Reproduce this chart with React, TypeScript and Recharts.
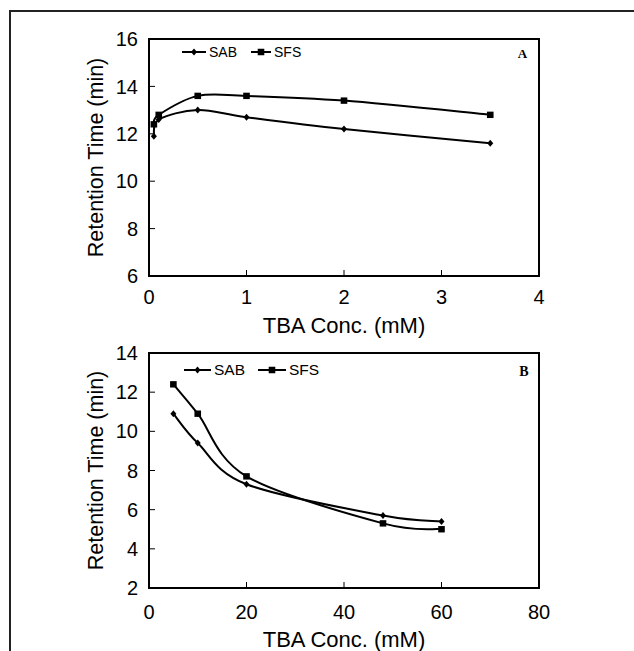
import React from 'react';
import { LineChart, Line, XAxis, YAxis, ReferenceArea, Legend } from 'recharts';

// ---- data ----
const concA = [0.05, 0.1, 0.5, 1, 2, 3.5];
const sabA = [11.9, 12.6, 13.0, 12.7, 12.2, 11.6];
const sfsA = [12.4, 12.8, 13.6, 13.6, 13.4, 12.8];

const concB = [5, 10, 20, 48, 60];
const sabB = [10.9, 9.4, 7.3, 5.7, 5.4];
const sfsB = [12.4, 10.9, 7.7, 5.3, 5.0];

const xTicksA = [0, 1, 2, 3, 4];
const yTicksA = [6, 8, 10, 12, 14, 16];
const xTicksB = [0, 20, 40, 60, 80];
const yTicksB = [2, 4, 6, 8, 10, 12, 14];

const seriesNames = ['SAB', 'SFS'];
const panelLabels = ['A', 'B'];
const xTitle = 'TBA Conc. (mM)';
const yTitle = 'Retention Time (min)';

const dataA = concA.map((x, i) => ({ x, SAB: sabA[i], SFS: sfsA[i] }));
const dataB = concB.map((x, i) => ({ x, SAB: sabB[i], SFS: sfsB[i] }));

const FONT = '"Liberation Sans", Arial, sans-serif';

// Catmull-Rom style smoothing (similar to spreadsheet "smoothed line")
function smoothCurve(context: any) {
  let pts: number[][] = [];
  return {
    areaStart() {},
    areaEnd() {},
    lineStart() {
      pts = [];
    },
    point(x: number, y: number) {
      pts.push([+x, +y]);
    },
    lineEnd() {
      const n = pts.length;
      if (!n) return;
      context.moveTo(pts[0][0], pts[0][1]);
      for (let i = 0; i < n - 1; i++) {
        const p0 = pts[Math.max(i - 1, 0)];
        const p1 = pts[i];
        const p2 = pts[i + 1];
        const p3 = pts[Math.min(i + 2, n - 1)];
        context.bezierCurveTo(
          p1[0] + (p2[0] - p0[0]) / 6,
          p1[1] + (p2[1] - p0[1]) / 6,
          p2[0] - (p3[0] - p1[0]) / 6,
          p2[1] - (p3[1] - p1[1]) / 6,
          p2[0],
          p2[1]
        );
      }
    },
  };
}

const diamondPath = (cx: number, cy: number) =>
  `M${cx},${cy - 3.5}L${cx + 3},${cy}L${cx},${cy + 3.5}L${cx - 3},${cy}Z`;
const squarePath = (cx: number, cy: number) =>
  `M${cx - 3.3},${cy - 3.2}h6.6v6.4h-6.6Z`;

const DiamondDot = (props: any) => {
  const { cx, cy, index } = props;
  if (cx == null || cy == null) return <g key={`d${index}`} />;
  return <path key={`d${index}`} d={diamondPath(cx, cy)} fill="#000" />;
};
const SquareDot = (props: any) => {
  const { cx, cy, index } = props;
  if (cx == null || cy == null) return <g key={`s${index}`} />;
  return <path key={`s${index}`} d={squarePath(cx, cy)} fill="#000" />;
};

const makeLegend = (cfg: { fontSize: number; lineLens: number[]; gap: number }) => (props: any) => {
  const items = props.payload || [];
  return (
    <div style={{ display: 'flex', alignItems: 'center', height: 16, fontFamily: FONT, fontSize: cfg.fontSize, color: '#000', whiteSpace: 'nowrap' }}>
      {items.map((it: any, i: number) => {
        const L = cfg.lineLens[i] || 24;
        const isSab = it.value === seriesNames[0];
        return (
          <div key={i} style={{ display: 'flex', alignItems: 'center', marginLeft: i ? cfg.gap : 0 }}>
            <svg width={L} height={16} style={{ display: 'block' }}>
              <line x1={0} y1={8} x2={L} y2={8} stroke="#000" strokeWidth={2} />
              <path d={isSab ? diamondPath(L / 2, 8) : squarePath(L / 2, 8)} fill="#000" />
            </svg>
            <span style={{ marginLeft: 3, lineHeight: '16px' }}>{it.value}</span>
          </div>
        );
      })}
    </div>
  );
};

type PanelProps = {
  data: any[];
  xTicks: number[];
  yTicks: number[];
  top: number;
  height: number;
  marginTop: number;
  xAxisHeight: number;
  xTickMargin: number;
  xTitleOffset: number;
  panel: string;
  panelFont: number;
  panelDx: number;
  panelDy: number;
  legendTop: number;
  legendLeft: number;
  legendCfg: { fontSize: number; lineLens: number[]; gap: number };
};

const Panel = (p: PanelProps) => {
  const xMin = p.xTicks[0];
  const xMax = p.xTicks[p.xTicks.length - 1];
  const yMin = p.yTicks[0];
  const yMax = p.yTicks[p.yTicks.length - 1];
  const yAxisWidth = 60;
  const plotLeft = 149;
  const plotRight = 539;
  return (
    <div style={{ position: 'absolute', left: 0, top: p.top }}>
      <LineChart
        width={634}
        height={p.height}
        data={p.data}
        margin={{ top: p.marginTop, right: 634 - plotRight, left: plotLeft - yAxisWidth, bottom: 0 }}
      >
        <XAxis
          dataKey="x"
          type="number"
          domain={[xMin, xMax]}
          ticks={p.xTicks}
          interval={0}
          height={p.xAxisHeight}
          tickSize={-6}
          tickMargin={p.xTickMargin}
          tick={{ fill: '#000', fontSize: 20, fontFamily: FONT }}
          tickLine={{ stroke: '#000', strokeWidth: 1 }}
          axisLine={{ stroke: '#000', strokeWidth: 2 }}
          label={{
            content: (lp: any) => {
              const vb = lp.viewBox || {};
              return (
                <text x={vb.x + vb.width / 2} y={vb.y + p.xTitleOffset} textAnchor="middle" fontFamily={FONT} fontSize={22} fill="#000">
                  {xTitle}
                </text>
              );
            },
          }}
        />
        <YAxis
          type="number"
          domain={[yMin, yMax]}
          ticks={p.yTicks}
          interval={0}
          width={yAxisWidth}
          tickSize={-6}
          tickMargin={17}
          tick={{ fill: '#000', fontSize: 20, fontFamily: FONT }}
          tickLine={{ stroke: '#000', strokeWidth: 1 }}
          axisLine={{ stroke: '#000', strokeWidth: 2 }}
          label={{
            content: (lp: any) => {
              const vb = lp.viewBox || {};
              const cx = vb.x + vb.width - 53;
              const cy = vb.y + vb.height / 2;
              return (
                <text x={cx} y={cy} transform={`rotate(-90 ${cx} ${cy})`} textAnchor="middle" dominantBaseline="central" fontFamily={FONT} fontSize={21.5} fill="#000">
                  {yTitle}
                </text>
              );
            },
          }}
        />
        <ReferenceArea
          x1={xMin}
          x2={xMax}
          y1={yMin}
          y2={yMax}
          fill="none"
          fillOpacity={0}
          stroke="#000"
          strokeWidth={2}
          label={{
            content: (lp: any) => {
              const vb = lp.viewBox || {};
              return (
                <text x={vb.x + vb.width - p.panelDx} y={vb.y + p.panelDy} textAnchor="middle" fontFamily='"Liberation Serif", "Times New Roman", serif' fontWeight="bold" fontSize={p.panelFont} fill="#000">
                  {p.panel}
                </text>
              );
            },
          }}
        />
        <Legend
          verticalAlign="middle"
          layout="horizontal"
          align="center"
          content={makeLegend(p.legendCfg)}
          wrapperStyle={{ top: p.legendTop, left: p.legendLeft, bottom: 'auto', right: 'auto', width: 'auto' }}
        />
        <Line
          dataKey={seriesNames[0]}
          name={seriesNames[0]}
          type={smoothCurve as any}
          stroke="#000"
          strokeWidth={2}
          dot={DiamondDot}
          activeDot={false}
          isAnimationActive={false}
        />
        <Line
          dataKey={seriesNames[1]}
          name={seriesNames[1]}
          type={smoothCurve as any}
          stroke="#000"
          strokeWidth={2}
          dot={SquareDot}
          activeDot={false}
          isAnimationActive={false}
        />
      </LineChart>
    </div>
  );
};

export default function App() {
  return (
    <div style={{ position: 'absolute', left: 0, top: 0, width: 634, height: 651, background: '#fff', overflow: 'hidden' }}>
      <div style={{ position: 'absolute', left: 9, top: 10, width: 640, height: 660, borderLeft: '2px solid #222', borderTop: '2px solid #222' }} />
      <Panel
        data={dataA}
        xTicks={xTicksA}
        yTicks={yTicksA}
        top={0}
        height={345}
        marginTop={39}
        xAxisHeight={69}
        xTickMargin={20}
        xTitleOffset={57}
        panel={panelLabels[0]}
        panelFont={13}
        panelDx={16.5}
        panelDy={19}
        legendTop={44}
        legendLeft={182}
        legendCfg={{ fontSize: 14, lineLens: [24, 20], gap: 14 }}
      />
      <Panel
        data={dataB}
        xTicks={xTicksB}
        yTicks={yTicksB}
        top={320}
        height={331}
        marginTop={33}
        xAxisHeight={63}
        xTickMargin={23}
        xTitleOffset={59}
        panel={panelLabels[1]}
        panelFont={14}
        panelDx={15}
        panelDy={23}
        legendTop={42}
        legendLeft={184}
        legendCfg={{ fontSize: 15.5, lineLens: [27, 28], gap: 13 }}
      />
    </div>
  );
}
